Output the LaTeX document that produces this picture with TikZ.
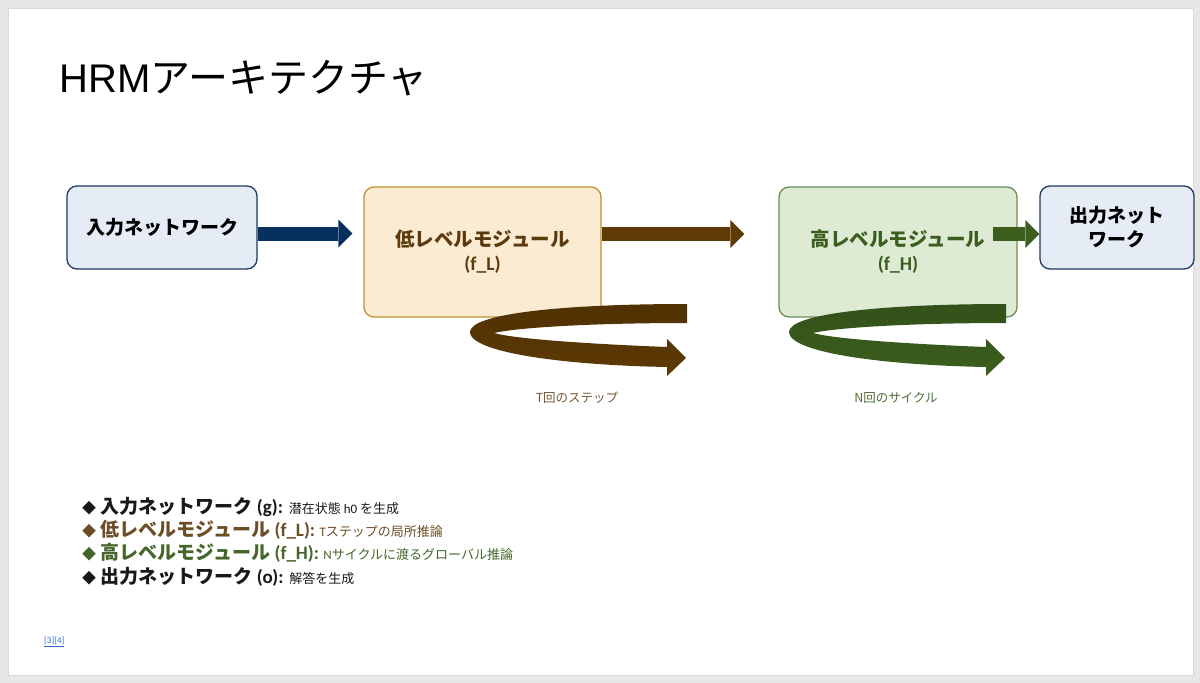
\documentclass[tikz,border=0pt]{standalone}
\usepackage{fontspec}
\setmainfont{Noto Sans CJK JP}
\newfontfamily\titlefont{Liberation Sans}
\newfontfamily\latfont{Carlito}
\usetikzlibrary{arrows.meta,calc}

\begin{document}
\begin{tikzpicture}[x=1pt,y=-1pt,
    box/.style={draw,rounded corners=10pt,line width=1.3pt,align=center,inner sep=0pt},
    fatarrow/.style={line width=14pt,-{Triangle[length=14pt,width=28pt,line width=0pt]}},
    legend/.style={anchor=west,inner sep=0pt,font=\bfseries\fontsize{19}{23}\selectfont},
    small/.style={font=\fontsize{12.5}{15}\selectfont}]
    \definecolor{PageGray}{HTML}{E7E7E7}
    \definecolor{InFill}{HTML}{E6ECF6}
    \definecolor{InLine}{HTML}{1F3864}
    \definecolor{InArrow}{HTML}{08305E}
    \definecolor{LowFill}{HTML}{FBEBD3}
    \definecolor{LowLine}{HTML}{C0902E}
    \definecolor{LowText}{HTML}{5C3A0E}
    \definecolor{LowArrow}{HTML}{5E3A04}
    \definecolor{HighFill}{HTML}{DEEAD4}
    \definecolor{HighLine}{HTML}{6E8E56}
    \definecolor{HighText}{HTML}{3B5E1E}
    \definecolor{HighArrow}{HTML}{3C5F1E}
    \definecolor{LinkBlue}{HTML}{2A6EC8}
    % slide
    \useasboundingbox (0,0) rectangle (1200,683);
    \fill[PageGray] (0,0) rectangle (1200,683);
    \fill[white, draw=black!15] (8,8) rectangle (1193,675);
    \node[anchor=base west, font=\fontsize{40}{48}\selectfont] (title) at (56,92) {{\titlefont HRM}アーキテクチャ};
    % modules
    \node[box, fill=InFill, draw=InLine, minimum width=190pt, minimum height=83pt,
          font=\bfseries\fontsize{19}{23}\selectfont] (in) at (162,227.5) {入力ネットワーク};
    \node[box, fill=LowFill, draw=LowLine, text=LowText, minimum width=237pt, minimum height=130pt,
          font=\bfseries\fontsize{19.5}{24}\selectfont] (low) at (482.5,252) {低レベルモジュール\\{\latfont (f\_L)}};
    \node[box, fill=HighFill, draw=HighLine, text=HighText, minimum width=238pt, minimum height=130pt,
          font=\bfseries\fontsize{19.5}{24}\selectfont] (high) at (898,252) {高レベルモジュール\\{\latfont (f\_H)}};
    \node[box, fill=InFill, draw=InLine, minimum width=154pt, minimum height=83pt,
          font=\bfseries\fontsize{19}{24}\selectfont] (out) at (1117,227.5) {出力ネット\\ワーク};
    % flow
    \draw[fatarrow, InArrow] ($(in.east)+(0,6)$) -- ($(low.west)+(-11,-18.5)$);
    \draw[fatarrow, LowArrow] ($(low.east)+(0,-18)$) -- ($(high.west)+(-34,-18)$);
    \draw[fatarrow, HighArrow] ($(high.east)+(-25,-18)$) -- ($(out.west)+(0,6.5)$);
    % loops
    \foreach \dx/\dark/\light in {0/LowArrow!85!black/LowArrow, 319/HighArrow!85!black/HighArrow}{
        \shade[top color=\dark, bottom color=\light, shift={(\dx,0)}]
            (687,304) .. controls (560,304) and (470,314) .. (470,332)
            .. controls (470,352) and (560,365) .. (667,367)
            -- (667,376) -- (686,358) -- (667,339) -- (667,347)
            .. controls (590,344) and (515,339) .. (494,333)
            .. controls (520,327) and (600,323) .. (687,323) -- cycle;
    }
    \node[small, text=LowText!85] (tsteps) at (577,398) {T回のステップ};
    \node[small, text=HighText!90] (ncycles) at (896,398) {N回のサイクル};
    % legend
    \node[legend, text=black!90] (lg1) at (82,507) {{\fontsize{14}{16}\selectfont ◆} 入力ネットワーク {\latfont (g):} {\mdseries\fontsize{13}{16}\selectfont 潜在状態 {\latfont h0} を生成}};
    \node[legend, text=LowText!90] (lg2) at (82,530) {{\fontsize{14}{16}\selectfont ◆} 低レベルモジュール {\latfont (f\_L):} {\mdseries\fontsize{13}{16}\selectfont {\latfont T}ステップの局所推論}};
    \node[legend, text=HighText!95] (lg3) at (82,553) {{\fontsize{14}{16}\selectfont ◆} 高レベルモジュール {\latfont (f\_H):} {\mdseries\fontsize{13}{16}\selectfont {\latfont N}サイクルに渡るグローバル推論}};
    \node[legend, text=black!90] (lg4) at (82,577) {{\fontsize{14}{16}\selectfont ◆} 出力ネットワーク {\latfont (o):} {\mdseries\fontsize{13}{16}\selectfont 解答を生成}};
    \node[anchor=west, inner sep=0pt, text=LinkBlue, font=\latfont\fontsize{9}{11}\selectfont] (refs) at (44,642) {\underline{[3][4]}};
\end{tikzpicture}
\end{document}
